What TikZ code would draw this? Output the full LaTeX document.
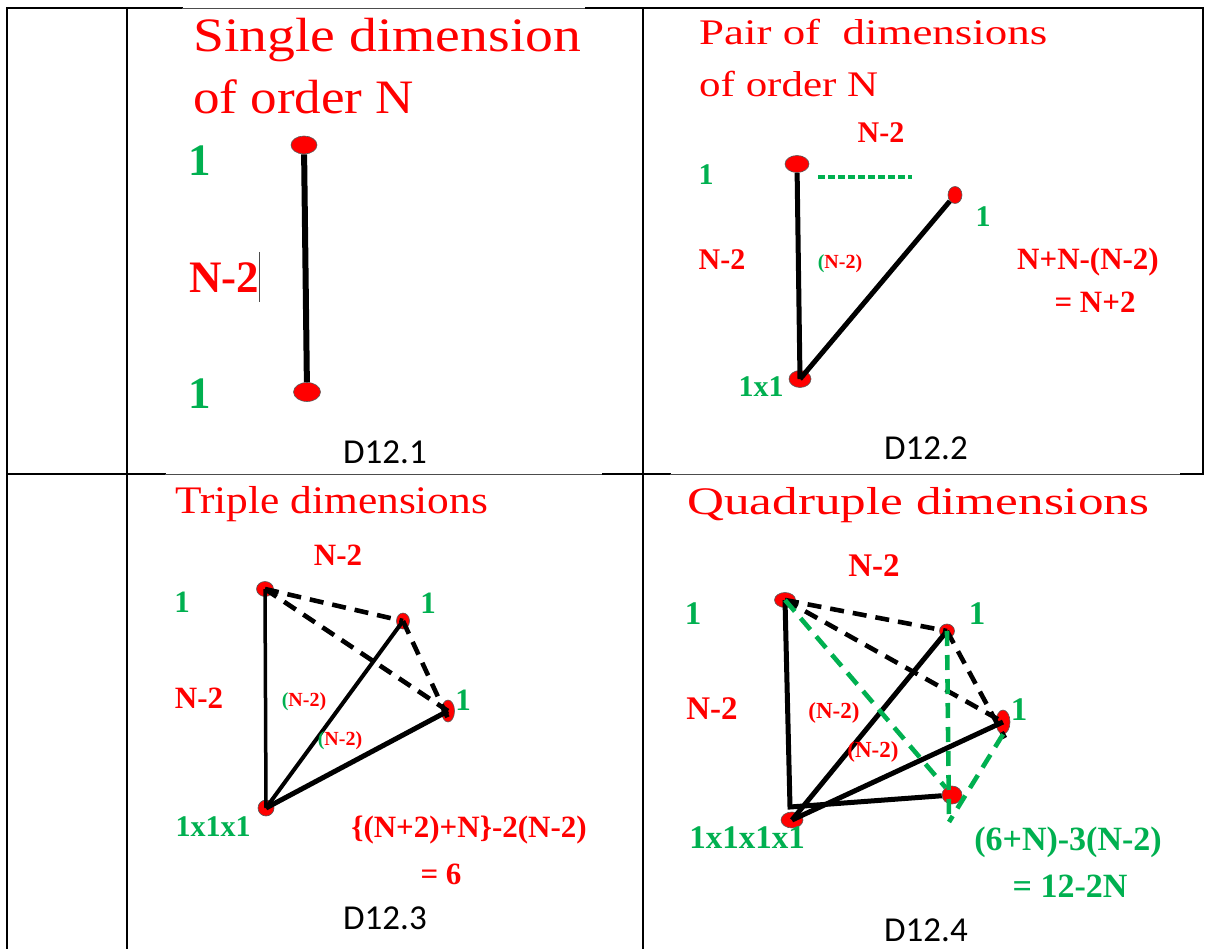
\documentclass[tikz,border=0pt]{standalone}
\usepackage{graphicx}
\usepackage{fontspec}
\setmainfont{Liberation Serif}
\newfontfamily\calfont{Carlito}
\definecolor{rd}{HTML}{FF0000}
\definecolor{gr}{HTML}{00B050}
\newcommand\fitw[2]{\resizebox{#1}{\height}{#2}}
\newcommand\fsz[1]{\fontsize{#1}{#1}\selectfont}
\usetikzlibrary{shapes.geometric}
\tikzset{
  rdot/.style 2 args={ellipse, fill=rd, draw=black!65, line width=0.6pt, inner sep=0pt, minimum width=#1pt, minimum height=#2pt},
  lab/.style 2 args={inner sep=0pt, font=\bfseries\fontsize{#1}{#1}\selectfont, text=#2},
  ttl/.style={inner sep=0pt, anchor=base west, text=rd},
  dcap/.style={inner sep=0pt, font=\calfont\fontsize{35}{35}\selectfont, text=black},
  tabrule/.style={line width=2.5pt, line cap=rect},
  tabthin/.style={line width=0.9pt, black!70},
  solidfour/.style={line width=5pt},
  bdash/.style={line width=4.6pt, dash pattern=on 14pt off 9pt},
  gdash/.style={line width=4.6pt, gr, dash pattern=on 15pt off 9pt},
}
\begin{document}
\begin{tikzpicture}[x=1pt, y=-1pt]
\useasboundingbox (0,0) rectangle (1205,949);
\fill[white] (0,0) rectangle (1205,949);
% ---------- table rules ----------
\coordinate (T0) at (7,8);   \coordinate (T1) at (182,8);
\coordinate (T2) at (586,8); \coordinate (T3) at (1203,8);
\coordinate (M0) at (7,474);  \coordinate (M1) at (165,474);
\coordinate (M2) at (603,474); \coordinate (M3) at (670,474);
\coordinate (M4) at (1181,474); \coordinate (M5) at (1203,474);
\coordinate (B0) at (7,949); \coordinate (B1) at (127,949); \coordinate (B2) at (643,949);
\coordinate (C1) at (127,8); \coordinate (C2) at (643,8);
\draw[tabrule] (T0) -- (T1); \draw[tabthin] (T1) -- (T2); \draw[tabrule] (T2) -- (T3);
\draw[tabrule] (M0) -- (M1); \draw[tabthin] (M1) -- (M2); \draw[tabrule] (M2) -- (M3);
\draw[tabthin] (M3) -- (M4); \draw[tabrule] (M4) -- (M5);
\draw[tabrule] (T0) -- (B0);
\draw[tabrule] (C1) -- (B1);
\draw[tabrule] (C2) -- (B2);
\draw[tabrule] (T3) -- (M5);

% ---------- D12.1 ----------
\node[ttl] (ti1a) at (193,52) {\fitw{388pt}{\fsz{48}Single dimension}};
\node[ttl] (ti1b) at (193,114) {\fitw{221pt}{\fsz{48}of order N}};
\node[rdot={26}{18}] (t1) at (304,145) {};
\node[rdot={27}{19}] (b1) at (307,392) {};
\draw[line width=6pt] (t1) -- (b1);
\node[lab={45}{gr}] (l1a) at (200,161) {1};
\node[lab={45}{rd}] (l1b) at (224,278) {N-2};
\node[lab={45}{gr}] (l1c) at (200,394) {1};
\coordinate (cur1) at (259,252); \coordinate (cur2) at (259,302);
\draw[black!70, line width=0.8pt] (cur1) -- (cur2);
\node[dcap] (c1) at (385,452) {D12.1};

% ---------- D12.2 ----------
\node[ttl] (ti2a) at (699,45) {\fitw{348pt}{\fsz{36}Pair of\ \ dimensions}};
\node[ttl] (ti2b) at (699,97) {\fitw{179pt}{\fsz{36}of order N}};
\node[rdot={24}{17}] (t2) at (797,164) {};
\node[rdot={14}{17}] (r2) at (955,195) {};
\node[rdot={22}{17}] (b2) at (800,379) {};
\draw[solidfour] (t2) -- (b2.center);
\draw[solidfour] (b2.center) -- (r2);
\coordinate (g2a) at (818,177); \coordinate (g2b) at (912,177);
\draw[gr, line width=3.2pt, dash pattern=on 7pt off 3pt] (g2a) -- (g2b);
\node[lab={30}{rd}] (l2a) at (881,133) {N-2};
\node[lab={30}{gr}] (l2b) at (706,175) {1};
\node[lab={30}{gr}] (l2c) at (983,217) {1};
\node[lab={30}{rd}] (l2d) at (722,260) {N-2};
\node[lab={20}{rd}] (l2e) at (840,264) {{\color{gr}(}N-2)};
\node[lab={31}{rd}] (l2f) at (1088,262) {N+N-(N-2)};
\node[lab={31}{rd}] (l2g) at (1095,302) {= N+2};
\node[lab={30}{gr}] (l2h) at (761,387) {1x1};
\node[dcap] (c2) at (926,448) {D12.2};

% ---------- D12.3 ----------
\node[ttl] (ti3) at (175,513) {\fitw{313pt}{\fsz{39}Triple dimensions}};
\node[rdot={17}{15}] (A3) at (265,589) {};
\node[rdot={13}{16}] (B3) at (403,621) {};
\node[rdot={13}{22}] (C3) at (448,711) {};
\node[rdot={16}{16}] (E3) at (266,808) {};
\draw[line width=3.5pt] (A3.center) -- (E3.center);
\draw[line width=4pt] (E3.center) -- (B3.center);
\draw[line width=5pt] (E3.center) -- (C3.center);
\coordinate (C3b) at (451,725);
\draw[bdash] (A3.center) -- (B3.center);
\draw[bdash] (A3.center) -- (C3.center);
\draw[bdash] (B3.center) -- (C3b);
\node[lab={31}{rd}] (l3a) at (338,555) {N-2};
\node[lab={31}{gr}] (l3b) at (182,602) {1};
\node[lab={31}{gr}] (l3c) at (428,603) {1};
\node[lab={31}{gr}] (l3d) at (463,700) {1};
\node[lab={31}{rd}] (l3e) at (199,698) {N-2};
\node[lab={20}{rd}] (l3f) at (304,702) {{\color{gr}(}N-2)};
\node[lab={20}{rd}] (l3g) at (340,741) {{\color{gr}(}N-2)};
\node[lab={30}{gr}] (l3h) at (213,827) {1x1x1};
\node[lab={31}{rd}] (l3i) at (469,830) {\{(N+2)+N\}-2(N-2)};
\node[lab={31}{rd}] (l3j) at (441,874) {= 6};
\node[dcap] (c3) at (385,918) {D12.3};

% ---------- D12.4 ----------
\node[ttl] (ti4) at (687,514) {\fitw{462pt}{\fsz{39}Quadruple dimensions}};
\node[rdot={21}{15}] (A4) at (785,600) {};
\node[rdot={15}{14}] (B4) at (947,631) {};
\node[rdot={14}{24}] (C4) at (1003,722) {};
\node[rdot={20}{18}] (D4) at (952,795) {};
\node[rdot={22}{16}] (E4) at (792,820) {};
\coordinate (K4) at (790,807);
\coordinate (C4b) at (1005,738);
\coordinate (P4) at (949,822);
\draw[solidfour] (A4.center) -- (K4) -- (D4);
\draw[solidfour] (E4.center) -- (B4.center);
\draw[solidfour] (E4.center) -- (C4.center);
\draw[bdash] (A4.center) -- (B4.center);
\draw[bdash] (A4.center) -- (C4.center);
\draw[bdash] (B4.center) -- (C4b);
\draw[gdash] (A4.center) -- (D4);
\draw[gdash] (B4.center) -- (P4);
\draw[gdash] (C4.south) -- (P4);
\node[lab={33}{rd}] (l4a) at (874,566) {N-2};
\node[lab={33}{gr}] (l4b) at (693,614) {1};
\node[lab={33}{gr}] (l4c) at (977,614) {1};
\node[lab={33}{gr}] (l4d) at (1019,710) {1};
\node[lab={33}{rd}] (l4e) at (712,709) {N-2};
\node[lab={23}{rd}] (l4f) at (834,713) {(N-2)};
\node[lab={23}{rd}] (l4g) at (873,752) {(N-2)};
\node[lab={33}{gr}] (l4h) at (747,838) {1x1x1x1};
\node[lab={34}{gr}] (l4i) at (1068,842) {(6+N)-3(N-2)};
\node[lab={34}{gr}] (l4j) at (1070,886) {= 12-2N};
\node[dcap] (c4) at (926,930) {D12.4};
\end{tikzpicture}
\end{document}
